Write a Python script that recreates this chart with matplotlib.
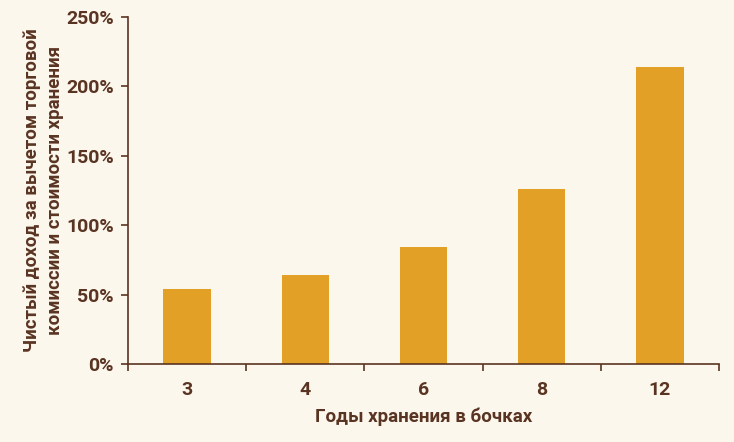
import matplotlib
matplotlib.use("Agg")
import matplotlib.pyplot as plt
from matplotlib.ticker import FuncFormatter, FixedLocator

categories = ["3", "4", "6", "8", "12"]
values = [54, 64, 84, 126, 214]
yticks = [0, 50, 100, 150, 200, 250]

bg = "#fcf7ec"
bar_color = "#e3a026"
text_color = "#5a3422"

plt.rcParams['font.family'] = ['Roboto', 'DejaVu Sans']

fig = plt.figure(figsize=(7.34, 4.42), dpi=100, facecolor=bg)
ax = fig.add_axes([128/734, 78/442, (719-128)/734, (364-17)/442])
ax.set_facecolor(bg)

x = list(range(len(categories)))
ax.bar(x, values, width=0.4, color=bar_color, zorder=2)

ax.set_xlim(-0.5, len(categories) - 0.5)
ax.set_ylim(0, 250)
ax.set_yticks(yticks)
ax.yaxis.set_major_formatter(FuncFormatter(lambda v, p: f"{int(v)}%"))

ax.set_xticks(x)
ax.set_xticklabels(categories)
ax.xaxis.set_minor_locator(FixedLocator([i - 0.5 for i in range(len(categories) + 1)]))
ax.tick_params(axis='x', which='major', length=0, pad=12, labelsize=14, labelcolor=text_color)
ax.tick_params(axis='x', which='minor', length=5, width=1.2, color=text_color, direction='out')
ax.tick_params(axis='y', length=5, width=1.2, color=text_color, labelsize=14, labelcolor=text_color, pad=5)
for lab in ax.get_xticklabels() + ax.get_yticklabels():
    lab.set_fontweight('bold')

for s in ['top', 'right']:
    ax.spines[s].set_visible(False)
for s in ['left', 'bottom']:
    ax.spines[s].set_color(text_color)
    ax.spines[s].set_linewidth(1.2)

ax.set_xlabel("Годы хранения в бочках", fontsize=13.5, fontweight='bold', color=text_color, labelpad=6)
ax.set_ylabel("Чистый доход за вычетом торговой\nкомиссии и стоимости хранения",
              fontsize=13.5, fontweight='bold', color=text_color, labelpad=2, linespacing=1.3)

fig.savefig("out.png", dpi=100, facecolor=bg)
